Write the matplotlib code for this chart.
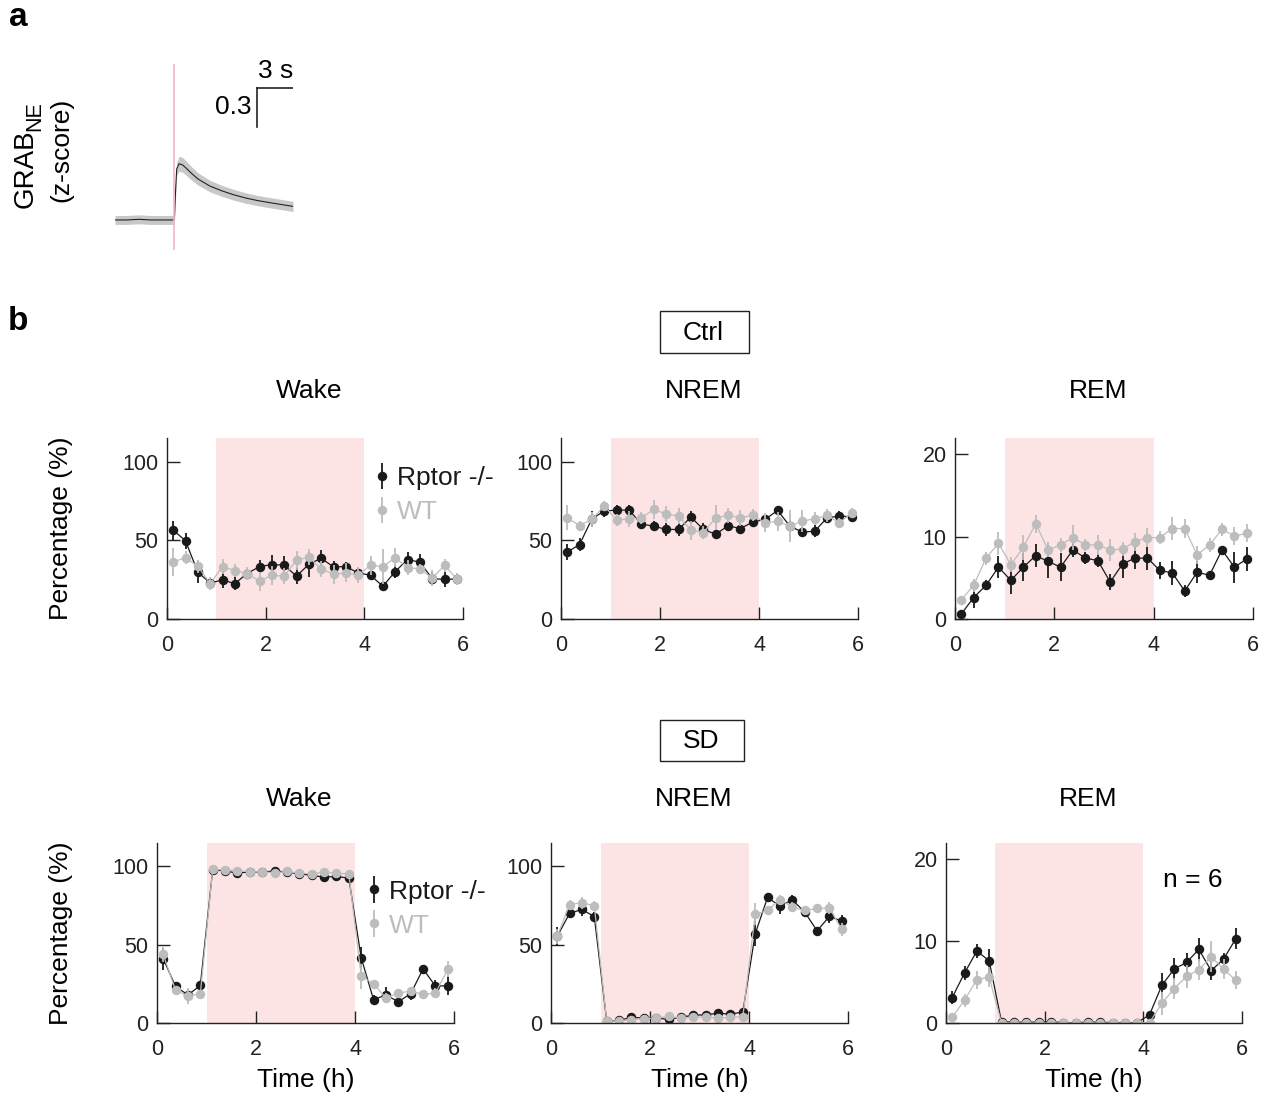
import numpy as np
import matplotlib
matplotlib.use('Agg')
import matplotlib.pyplot as plt
from matplotlib.patches import Rectangle

plt.rcParams['font.family'] = ['Liberation Sans', 'DejaVu Sans']

# ---- data ----
# panel a: GRAB_NE trace (z-score) around event onset
trace_t = [-5, -4, -3, -2, -1, 0, 0.1, 0.2, 0.4, 0.7, 1, 1.5, 2, 3, 4, 5, 6, 7, 8, 9, 10]
trace_z = [0.0, 0.0, 0.005, 0.0, 0.0, 0.0, 0.22, 0.4, 0.44, 0.43, 0.405, 0.36, 0.32,
           0.265, 0.228, 0.197, 0.172, 0.152, 0.136, 0.121, 0.106]
trace_sem = [0.035, 0.035, 0.035, 0.035, 0.035, 0.035, 0.045, 0.05, 0.058, 0.058, 0.056,
             0.052, 0.048, 0.045, 0.043, 0.042, 0.041, 0.04, 0.04, 0.04, 0.04]

# panel b: 15-min bins over 6 h
hours = [0.125, 0.375, 0.625, 0.875, 1.125, 1.375, 1.625, 1.875, 2.125, 2.375, 2.625, 2.875,
         3.125, 3.375, 3.625, 3.875, 4.125, 4.375, 4.625, 4.875, 5.125, 5.375, 5.625, 5.875]

ctrl_wake_ko = [56.5, 49.7, 29.7, 22.9, 24.8, 22.5, 28.9, 33.3, 34.6, 34.2, 27.2, 34.8,
                38.6, 33.1, 33.3, 29.3, 27.8, 20.8, 30.1, 37.8, 36.1, 25.7, 25.1, 25.5]
ctrl_wake_ko_err = [6, 5, 7, 3, 5, 4, 3, 4, 6, 6, 5, 8, 5, 4, 3, 3, 3, 3, 4, 5, 5, 4, 5, 3]
ctrl_wake_wt = [36.3, 38.9, 33.5, 22.5, 33.3, 30.8, 28.9, 24.0, 27.8, 27.2, 37.4, 39.3,
                31.8, 28.5, 29.3, 27.8, 34.2, 33.3, 38.9, 32.7, 31.8, 26.1, 34.0, 25.5]
ctrl_wake_wt_err = [9, 4, 4, 4, 5, 4, 4, 6, 6, 5, 6, 5, 5, 6, 6, 5, 6, 11, 6, 5, 3, 5, 4, 4]

ctrl_nrem_ko = [42.5, 47.3, 63.7, 68.6, 69.2, 69.2, 60.3, 59.0, 56.9, 56.9, 64.8, 56.9,
                53.9, 59.2, 57.5, 61.6, 63.3, 69.0, 59.0, 55.2, 55.8, 64.3, 65.4, 65.0]
ctrl_nrem_ko_err = [5, 4, 5, 4, 3, 3, 3, 3, 4, 4, 4, 4, 3, 3, 3, 3, 3, 3, 3, 3, 4, 3, 3, 3]
ctrl_nrem_wt = [64.3, 59.4, 63.3, 71.8, 62.8, 63.7, 64.3, 69.6, 66.7, 65.4, 56.5, 54.8,
                64.3, 65.8, 64.3, 66.0, 61.1, 62.0, 59.0, 62.2, 63.7, 65.8, 61.1, 67.5]
ctrl_nrem_wt_err = [8, 3, 5, 3, 4, 5, 4, 6, 5, 5, 6, 4, 8, 5, 5, 4, 6, 6, 10, 7, 4, 4, 3, 3]

ctrl_rem_ko = [0.6, 2.6, 4.1, 6.3, 4.7, 6.3, 7.7, 7.0, 6.3, 8.4, 7.4, 7.1,
               4.5, 6.7, 7.4, 7.4, 5.9, 5.6, 3.4, 5.7, 5.3, 8.4, 6.3, 7.3]
ctrl_rem_ko_err = [0.5, 1.3, 0.6, 1.3, 1.7, 1.7, 1.4, 2.0, 1.7, 0.9, 0.7, 0.8,
                   1.0, 1.7, 1.3, 1.4, 1.0, 1.5, 0.7, 1.3, 0.4, 0.3, 1.9, 1.5]
ctrl_rem_wt = [2.3, 4.1, 7.4, 9.2, 6.6, 8.7, 11.6, 8.4, 9.0, 9.9, 9.0, 9.0,
               8.4, 8.5, 9.4, 9.9, 9.9, 11.0, 11.0, 7.8, 9.0, 10.9, 10.1, 10.4]
ctrl_rem_wt_err = [0.4, 0.8, 0.8, 1.4, 0.9, 1.5, 1.1, 0.9, 0.9, 1.5, 0.7, 1.2,
                   1.3, 0.9, 1.1, 1.2, 0.8, 1.4, 1.2, 1.1, 0.9, 0.8, 1.1, 1.1]

sd_wake_ko = [41.1, 23.4, 17.9, 24.0, 97.9, 97.2, 95.7, 96.6, 96.4, 97.2, 96.4, 95.3,
              94.3, 93.2, 93.6, 92.6, 41.7, 14.9, 17.9, 13.6, 18.7, 34.5, 23.6, 23.8]
sd_wake_ko_err = [7, 3, 3, 3, 1, 1, 1, 1, 1, 1, 1, 1, 1, 1, 1, 1, 7, 3, 5, 2, 4, 2, 4, 6]
sd_wake_wt = [43.8, 20.9, 17.2, 18.7, 98.1, 97.9, 97.4, 96.6, 96.6, 96.0, 96.8, 95.7,
              95.3, 96.4, 95.7, 95.3, 30.0, 25.1, 16.0, 19.1, 20.4, 18.3, 19.1, 34.3]
sd_wake_wt_err = [5, 3, 5, 2, 1, 1, 1, 1, 1, 1, 1, 1, 1, 1, 1, 1, 8, 2, 3, 2, 2, 3, 3, 5]

sd_nrem_ko = [55.3, 70.0, 72.6, 67.9, 1.3, 1.7, 3.6, 3.2, 3.2, 2.3, 3.8, 4.9,
              5.3, 6.2, 5.7, 7.0, 57.0, 80.2, 74.7, 78.7, 70.9, 58.9, 68.1, 65.1]
sd_nrem_ko_err = [6, 3, 4, 3, 1, 1, 1, 1, 1, 1, 1, 1, 1, 1, 1, 1, 8, 3, 5, 3, 3, 2, 4, 4]
sd_nrem_wt = [55.3, 75.7, 76.8, 74.9, 1.3, 1.3, 2.1, 2.8, 3.2, 4.3, 3.2, 3.6,
              3.8, 3.2, 3.6, 4.0, 69.4, 71.9, 78.9, 74.0, 71.9, 73.2, 73.4, 59.8]
sd_nrem_wt_err = [5, 3, 4, 3, 1, 1, 1, 1, 1, 1, 1, 1, 1, 1, 1, 1, 7, 3, 3, 3, 3, 3, 4, 4]

sd_rem_ko = [3.1, 6.1, 8.8, 7.6, 0.15, 0.1, 0.1, 0.1, 0.15, 0.05, 0.05, 0.1,
             0.1, 0.05, 0.05, 0.05, 1.0, 4.6, 6.6, 7.4, 9.0, 6.4, 7.8, 10.3]
sd_rem_ko_err = [0.8, 0.9, 0.9, 1.5, 0.1, 0.1, 0.1, 0.1, 0.1, 0.1, 0.1, 0.1,
                 0.1, 0.1, 0.1, 0.1, 0.5, 1.5, 1.4, 1.2, 1.4, 1.2, 0.8, 1.3]
sd_rem_wt = [0.7, 2.8, 5.3, 5.6, 0.0, 0.0, 0.0, 0.0, 0.0, 0.0, 0.0, 0.0,
             0.0, 0.0, 0.0, 0.0, 0.05, 2.4, 4.2, 5.7, 6.5, 8.1, 6.6, 5.2]
sd_rem_wt_err = [0.3, 0.8, 1.1, 1.2, 0.0, 0.0, 0.0, 0.0, 0.0, 0.0, 0.0, 0.0,
                 0.0, 0.0, 0.0, 0.0, 0.2, 1.4, 1.3, 1.4, 1.3, 1.9, 1.2, 1.1]

sd_window = (1, 4)  # shaded period (h)
scalebar_t = (7, 10)   # 3 s
scalebar_z = (0.73, 1.03)  # 0.3 z

KO_COLOR = '#1a1a1a'
WT_COLOR = '#bdbdbd'
SHADE = '#fce4e4'
AX_COLOR = '#222222'
FS = 19      # labels / titles
TFS = 15.5   # tick labels

W, H = 1262, 1097
fig = plt.figure(figsize=(W / 100, H / 100), dpi=100)


def px_axes(l, t, r, b):
    return fig.add_axes([l / W, 1 - b / H, (r - l) / W, (b - t) / H])


def fig_text(x, y, s, **kw):
    return fig.text(x / W, 1 - y / H, s, **kw)


# ---- panel a ----
ax = px_axes(115, 64, 293, 250)
t = np.array(trace_t)
z = np.array(trace_z)
s = np.array(trace_sem)
ax.fill_between(t, z - s, z + s, color='#c8c8c8', lw=0)
ax.plot(t, z, color='#222222', lw=0.8)
ax.axvline(0, color='#f2b8c8', lw=1.2)
ax.plot([scalebar_t[0], scalebar_t[1]], [scalebar_z[1], scalebar_z[1]], color=AX_COLOR, lw=1.2)
ax.plot([scalebar_t[0], scalebar_t[0]], [scalebar_z[0], scalebar_z[1]], color=AX_COLOR, lw=1.2)
ax.set_xlim(-5, 10)
ax.set_ylim(-0.235, 1.22)
ax.axis('off')
fig_text(276, 71, '3 s', fontsize=FS, ha='center', va='center')
fig_text(252, 107, '0.3', fontsize=FS, ha='right', va='center')
fig_text(33, 208, 'GRAB', fontsize=20, rotation=90, rotation_mode='anchor',
         ha='left', va='baseline')
fig_text(40, 131, 'NE', fontsize=15.5, rotation=90, rotation_mode='anchor',
         ha='left', va='baseline')
fig_text(61, 150, '(z-score)', fontsize=FS, rotation=90, ha='center', va='center')

fig_text(18, 18, 'a', fontsize=24, fontweight='bold', ha='center', va='center')
fig_text(18, 322, 'b', fontsize=24, fontweight='bold', ha='center', va='center')


# ---- panel b ----
def draw_panel(ax, ko, ko_err, wt, wt_err, ymax, yticks):
    ax.axvspan(sd_window[0], sd_window[1], color=SHADE, lw=0, zorder=0)
    ax.plot(hours, ko, color=KO_COLOR, lw=0.9, zorder=2)
    ax.errorbar(hours, ko, yerr=ko_err, fmt='o', color=KO_COLOR, ms=5.8, elinewidth=1.3,
                capsize=0, zorder=3, label='Rptor -/-')
    ax.plot(hours, wt, color=WT_COLOR, lw=0.9, zorder=4)
    ax.errorbar(hours, wt, yerr=wt_err, fmt='o', color=WT_COLOR, ms=5.8, elinewidth=1.3,
                capsize=0, zorder=5, label='WT')
    ax.set_xlim(0, 6)
    ax.set_ylim(0, ymax)
    ax.set_xticks([0, 2, 4, 6])
    ax.set_yticks(yticks)
    for side in ['top', 'right']:
        ax.spines[side].set_visible(False)
    for side in ['left', 'bottom']:
        ax.spines[side].set_linewidth(1.0)
        ax.spines[side].set_color(AX_COLOR)
        ax.spines[side].set_zorder(6)
    ax.tick_params(direction='in', length=9, width=1.0, color=AX_COLOR, labelsize=TFS,
                   labelcolor=AX_COLOR)
    ax.tick_params(axis='x', pad=11.5)
    ax.tick_params(axis='y', pad=6)
    ax.patch.set_alpha(0)


def add_legend(ax, anchor):
    leg = ax.legend(loc='center left', bbox_to_anchor=anchor, frameon=False, fontsize=FS,
                    handlelength=0.5, handletextpad=0.3, labelspacing=0.38, borderpad=0,
                    borderaxespad=0)
    for txt, c in zip(leg.get_texts(), [KO_COLOR, WT_COLOR]):
        txt.set_color(c)


ctrl_cols = [(167, 463), (561, 858), (955, 1253)]
sd_cols = [(157, 454), (551, 848), (946, 1242)]
ctrl_rows = (438, 619)
sd_rows = (843, 1023)

ctrl_data = [(ctrl_wake_ko, ctrl_wake_ko_err, ctrl_wake_wt, ctrl_wake_wt_err, 115, [0, 50, 100]),
             (ctrl_nrem_ko, ctrl_nrem_ko_err, ctrl_nrem_wt, ctrl_nrem_wt_err, 115, [0, 50, 100]),
             (ctrl_rem_ko, ctrl_rem_ko_err, ctrl_rem_wt, ctrl_rem_wt_err, 22, [0, 10, 20])]
sd_data = [(sd_wake_ko, sd_wake_ko_err, sd_wake_wt, sd_wake_wt_err, 115, [0, 50, 100]),
           (sd_nrem_ko, sd_nrem_ko_err, sd_nrem_wt, sd_nrem_wt_err, 115, [0, 50, 100]),
           (sd_rem_ko, sd_rem_ko_err, sd_rem_wt, sd_rem_wt_err, 22, [0, 10, 20])]
titles = ['Wake', 'NREM', 'REM']

ctrl_axes = []
for (l, r), d in zip(ctrl_cols, ctrl_data):
    a = px_axes(l, ctrl_rows[0], r, ctrl_rows[1])
    draw_panel(a, *d)
    ctrl_axes.append(a)
sd_axes = []
for (l, r), d in zip(sd_cols, sd_data):
    a = px_axes(l, sd_rows[0], r, sd_rows[1])
    draw_panel(a, *d)
    a.set_xlabel('Time (h)', fontsize=FS, labelpad=6)
    sd_axes.append(a)

for (l, r), title in zip(ctrl_cols, titles):
    fig_text((l + r) / 2 - 6, 391, title, fontsize=FS, ha='center', va='center')
for (l, r), title in zip(sd_cols, titles):
    fig_text((l + r) / 2 - 6, 799, title, fontsize=FS, ha='center', va='center')

ctrl_axes[0].set_ylabel('Percentage (%)', fontsize=FS)
sd_axes[0].set_ylabel('Percentage (%)', fontsize=FS)
ctrl_axes[0].yaxis.set_label_coords((73 - 167) / 296, 0.5)
sd_axes[0].yaxis.set_label_coords((73 - 157) / 297, 0.5)

add_legend(ctrl_axes[0], (0.705, 0.685))
add_legend(sd_axes[0], (0.71, 0.635))

sd_axes[2].text(0.833, 0.794, 'n = 6', transform=sd_axes[2].transAxes, fontsize=FS,
                ha='center', va='center')

# condition boxes
for (l, t, r, b), label in [((660, 311, 749, 353), 'Ctrl'), ((660, 720, 744, 761), 'SD')]:
    fig.patches.append(Rectangle((l / W, 1 - b / H), (r - l) / W, (b - t) / H,
                                 transform=fig.transFigure, fill=False, lw=1.0,
                                 edgecolor=AX_COLOR))
    fig_text((l + r) / 2 - 1, (t + b) / 2 + 1, label, fontsize=FS, ha='center', va='center')

fig.savefig('out.png', dpi=100)
